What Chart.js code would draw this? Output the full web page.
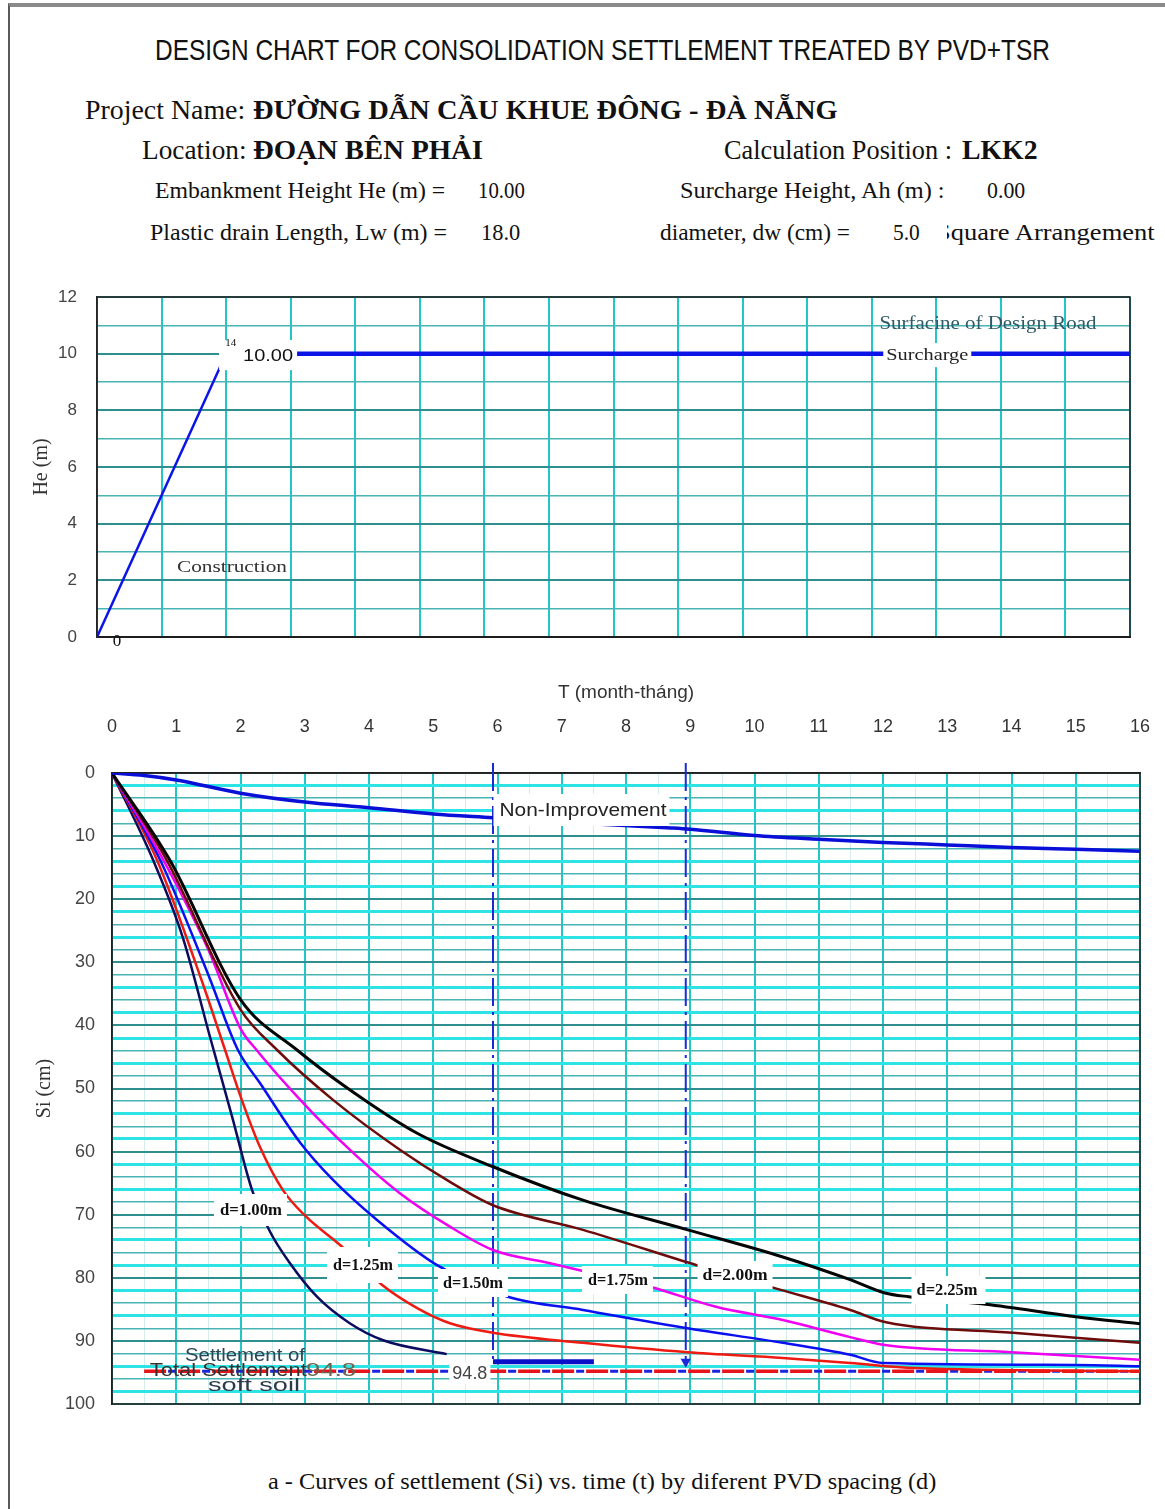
<!DOCTYPE html>
<html>
<head>
<meta charset="utf-8">
<script src="https://cdn.jsdelivr.net/npm/chart.js@4.4.1/dist/chart.umd.min.js"></script>
<style>
body{margin:0;background:#fff;width:1165px;height:1509px;position:relative;overflow:hidden;}
#frame{position:absolute;left:8px;top:3px;width:1200px;height:1540px;border-top:4px solid #8a8a8a;border-left:2px solid #5a5a5a;}
.t{position:absolute;white-space:nowrap;line-height:1;transform-origin:0 50%;color:#111;font-family:"Liberation Serif",serif;}
#top{position:absolute;left:0;top:280px;}
#bot{position:absolute;left:0;top:680px;}
#cut{position:absolute;left:924px;top:215px;width:23px;height:34px;background:#fff;}
</style>
</head>
<body>
<div id="frame"></div>
<canvas id="top" width="1165" height="380"></canvas>
<canvas id="bot" width="1165" height="760"></canvas>
<div id="texts"></div>
<div id="cut"></div>
<script>
// top chart: embankment height vs time
var heT = [0, 2, 16];
var heV = [0, 10, 10];
var heTicks = [0, 2, 4, 6, 8, 10, 12];

// bottom chart: settlement Si (cm) vs time t (month)
var timeTicks = [0,1,2,3,4,5,6,7,8,9,10,11,12,13,14,15,16];
var siTicks = [0,10,20,30,40,50,60,70,80,90,100];

var noImpT = [0, 0.5, 1, 2, 3, 4, 5, 5.93, 7, 8.7, 9, 10, 11, 12, 13, 14, 15, 16];
var noImpS = [0, 0.4, 1.1, 3.2, 4.6, 5.5, 6.5, 7.1, 7.8, 8.7, 8.9, 9.9, 10.5, 11.0, 11.4, 11.8, 12.1, 12.4];

var d100T = [0, 0.64, 1.1, 1.53, 1.87, 2.18, 2.46, 2.77, 3.19, 3.7, 4.22, 5.21];
var d100S = [0, 13.8, 26, 42, 54.5, 66.1, 72.7, 77.7, 83, 87.2, 89.9, 92.1];

var d125T = [0, 0.7, 1.4, 1.76, 2.02, 2.3, 2.66, 3.03, 3.55, 4.2, 4.75, 5.26, 5.93, 7.33, 8.96, 10.44, 11.49, 12.5, 16];
var d125S = [0, 13.8, 33, 43.9, 51.8, 59.2, 66.1, 70.4, 74.8, 81.1, 84.8, 87.2, 88.7, 90.3, 91.8, 92.7, 93.5, 94.3, 94.8];

var d150T = [0, 0.75, 1.5, 1.96, 2.3, 2.93, 3.44, 4.12, 5.06, 6.16, 7.33, 8.96, 10.44, 11.49, 12, 15, 16];
var d150S = [0, 13.8, 32, 43.9, 49.1, 58.6, 64.5, 70.8, 78, 83, 85.1, 88, 90.3, 92.2, 93.5, 93.8, 94];

var d175T = [0, 0.8, 1.5, 2, 2.25, 2.93, 3.7, 4.48, 5.26, 5.93, 6.82, 7.28, 8.4, 9.4, 10.44, 11.49, 12, 14, 16];
var d175S = [0, 13.8, 28, 40.5, 43.9, 51.8, 59.7, 66.6, 71.9, 75.6, 77.7, 78.8, 81.5, 84.6, 86.7, 89.4, 90.6, 91.8, 93];

var d200T = [0, 0.85, 2, 2.57, 3.44, 4.48, 5.26, 5.93, 7.33, 9.1, 10.3, 11.49, 12.03, 14.02, 16];
var d200S = [0, 13.8, 37.5, 43.9, 51.8, 59.7, 64.8, 68.5, 72.4, 78, 81.6, 85.1, 87, 88.7, 90.3];

var d225T = [0, 0.9, 2, 2.88, 3.7, 4.75, 5.93, 7.33, 8.96, 10.44, 11.49, 12.03, 12.4, 13.6, 15.03, 16];
var d225S = [0, 13.8, 35.9, 43.9, 50.2, 57.1, 62.4, 67.7, 72.4, 76.7, 80.3, 82.4, 83, 84.2, 86.2, 87.3];

var totalT = [0.5, 16];
var totalS = [94.8, 94.8];
var stageT = [5.93, 8.93];
var stageS = [-1.6, 93.3];
var holdT = [5.93, 7.5];
var holdS = [93.3, 93.3];

function pts(xs, ys){ return xs.map(function(x,i){ return {x:x, y:ys[i]}; }); }

// ---- header text ----
var texts = [
  ["DESIGN CHART FOR CONSOLIDATION SETTLEMENT TREATED BY PVD+TSR", 155, 50, 895, 30, false, '"Liberation Sans",sans-serif'],
  ["Project Name:", 85, 110, 160, 27],
  ["ĐƯỜNG DẪN CẦU KHUE ĐÔNG - ĐÀ NẴNG", 253, 110, 585, 27, true],
  ["Location:", 142, 150, 104, 27],
  ["ĐOẠN BÊN PHẢI", 253, 150, 230, 27, true],
  ["Calculation Position :", 724, 150, 228, 27],
  ["LKK2", 962, 150, 76, 27, true],
  ["Embankment Height He (m) =", 155, 190, 290, 23],
  ["10.00", 478, 190, 47, 23],
  ["Surcharge Height, Ah (m) :", 680, 190, 265, 23],
  ["0.00", 987, 190, 38, 23],
  ["Plastic drain Length, Lw (m) =", 150, 232, 297, 23],
  ["18.0", 481, 232, 39, 23],
  ["diameter, dw (cm) =", 660, 232, 190, 23],
  ["5.0", 893, 232, 27, 23],
  ["Square Arrangement", 936, 232, 219, 23],
  ["a - Curves of settlement (Si) vs. time (t) by diferent PVD spacing (d)", 268, 1481, 668, 23]
];
var holder = document.getElementById('texts');
texts.forEach(function(a){
  var d = document.createElement('div');
  d.className = 't';
  d.textContent = a[0];
  d.style.left = a[1] + 'px';
  d.style.top = (a[2] - a[4]/2) + 'px';
  d.style.fontSize = a[4] + 'px';
  if (a[5]) d.style.fontWeight = 'bold';
  if (a[6]) d.style.fontFamily = a[6];
  holder.appendChild(d);
  d.style.transform = 'scaleX(' + (a[3] / d.offsetWidth) + ')';
});

// ---- plugins ----
var frameBox = {
  id: 'frameBox',
  beforeDatasetsDraw: function(chart){
    var a = chart.chartArea, c = chart.ctx;
    c.save();
    c.strokeStyle = '#222';
    c.lineWidth = 1.5;
    c.strokeRect(a.left, a.top, a.right - a.left, a.bottom - a.top);
    c.restore();
  }
};
var notes = {
  id: 'notes',
  afterDatasetsDraw: function(chart, args, opts){
    var c = chart.ctx, xs = chart.scales.x, ys = chart.scales.y;
    (opts.items || []).forEach(function(n){
      c.save();
      c.font = n.font;
      var tw = c.measureText(n.text).width;
      var sx = n.w ? n.w / tw : 1;
      var w = tw * sx;
      var cx = xs.getPixelForValue(n.t), cy = ys.getPixelForValue(n.v);
      var left = cx - w / 2;
      if (n.box) {
        c.fillStyle = '#fff';
        c.fillRect(left - n.box[0], cy - n.box[2], w + n.box[0] + n.box[1], 2 * n.box[2]);
      }
      c.fillStyle = n.color || '#111';
      c.textBaseline = 'middle';
      c.translate(left, cy);
      c.scale(sx, 1);
      c.fillText(n.text, 0, 1);
      c.restore();
    });
  }
};

Chart.defaults.font.family = '"Liberation Sans", Arial, sans-serif';
Chart.defaults.color = '#333';

// gap between tick labels and plot is made with an invisible tick mark,
// so it does not add to the label overhang padding
function yGrid(major, mid, gap){
  return {
    color: function(c){
      var v = Math.round(c.tick.value * 100) / 100;
      if (v % major === 0) return '#2f8f8f';
      return (Math.round(v / mid) % 2) ? '#2ee3e3' : '#48b4b4';
    },
    lineWidth: function(c){
      var v = Math.round(c.tick.value * 100) / 100;
      if (v % major === 0) return 2;
      return (Math.round(v / mid) % 2) ? 3 : 1.5;
    },
    drawTicks: true, tickLength: gap, tickColor: 'rgba(0,0,0,0)'
  };
}
function xGrid(gap){
  return {
    color: function(c){ return c.tick.value % 1 === 0 ? '#22c6c6' : '#d4ecec'; },
    lineWidth: function(c){ return c.tick.value % 1 === 0 ? 2 : 1; },
    drawTicks: gap > 0, tickLength: gap, tickColor: 'rgba(0,0,0,0)'
  };
}

// ---- top chart ----
new Chart(document.getElementById('top'), {
  type: 'line',
  data: {
    datasets: [{
      label: 'He',
      data: pts(heT, heV),
      borderColor: '#0a14e6',
      segment: { borderWidth: function(c){ return c.p0DataIndex === 0 ? 2.5 : 4.5; } },
      pointRadius: 0,
      tension: 0
    }]
  },
  options: {
    responsive: false,
    animation: false,
    events: [],
    layout: { padding: { top: 17, right: 35, left: 0, bottom: 0 } },
    plugins: {
      legend: { display: false },
      tooltip: { enabled: false },
      notes: { items: [
        { text: '10.00', t: 2.65, v: 9.95, w: 50, font: '17px "Liberation Sans"', box: [24, 4, 15] },
        { text: '14', t: 2.07, v: 10.4, w: 11, font: '11px "Liberation Serif"' },
        { text: '0', t: 0.31, v: -0.14, font: '17px "Liberation Serif"' },
        { text: 'Construction', t: 2.09, v: 2.47, w: 110, font: '17px "Liberation Serif"', color: '#333' },
        { text: 'Surfacine of Design Road', t: 13.8, v: 11.08, w: 217, font: '18px "Liberation Serif"', color: '#2d5a66' },
        { text: 'Surcharge', t: 12.86, v: 9.95, w: 82, font: '16px "Liberation Serif"', color: '#222', box: [3, 3, 12] }
      ] }
    },
    scales: {
      x: {
        type: 'linear', min: 0, max: 16,
        ticks: { display: false, stepSize: 1, padding: 0 },
        grid: xGrid(0),
        border: { color: '#111', width: 2 },
        afterFit: function(s){ s.height = 23; }
      },
      y: {
        min: 0, max: 12,
        ticks: { stepSize: 0.5, padding: 0, font: { size: 17 }, color: '#444',
          callback: function(v){ return heTicks.indexOf(v) >= 0 ? String(v) : ''; } },
        grid: yGrid(2, 0.5, 20),
        border: { color: '#333', width: 1.5 },
        title: { display: true, text: 'He (m)', font: { family: '"Liberation Serif"', size: 20 }, color: '#333', padding: { top: 30 } },
        afterFit: function(s){ s.width = 97; }
      }
    }
  },
  plugins: [frameBox, notes]
});

// ---- bottom chart ----
function curve(label, t, s, color, width){
  return { label: label, data: pts(t, s), borderColor: color, borderWidth: width,
    pointRadius: 0, cubicInterpolationMode: 'monotone' };
}

new Chart(document.getElementById('bot'), {
  type: 'line',
  data: {
    datasets: [
      curve('Non-Improvement', noImpT, noImpS, '#0a0fd8', 3.5),
      curve('d=2.25m', d225T, d225S, '#050505', 3),
      curve('d=2.00m', d200T, d200S, '#6e0c0c', 2.5),
      curve('d=1.75m', d175T, d175S, '#f000f0', 2.5),
      curve('d=1.50m', d150T, d150S, '#0a10f0', 2.5),
      curve('d=1.25m', d125T, d125S, '#ee1b12', 2.5),
      curve('d=1.00m', d100T, d100S, '#0b0b60', 2.5),
      { label: 'Total Settlement', data: pts(totalT, totalS), borderColor: '#e8141c', borderWidth: 3.5,
        borderDash: [22, 12], pointRadius: 0 },
      { label: 'Settlement of soft soil', data: pts(totalT, totalS), borderColor: '#1b22e0', borderWidth: 3,
        borderDash: [8, 26], borderDashOffset: -24, pointRadius: 0 },
      { label: 't6', data: [{x: stageT[0], y: stageS[0]}, {x: stageT[0], y: stageS[1]}], borderColor: '#1a2ad8',
        borderWidth: 2, borderDash: [28, 6, 3, 6], pointRadius: 0, clip: false },
      { label: 't9', data: [{x: stageT[1], y: stageS[0]}, {x: stageT[1], y: stageS[1]}], borderColor: '#1a2ad8',
        borderWidth: 2, borderDash: [28, 6, 3, 6], clip: false,
        pointRadius: [0, 6], pointStyle: 'triangle', rotation: 180, pointBackgroundColor: '#1a2ad8', pointBorderWidth: 0 },
      { label: 'hold', data: pts(holdT, holdS), borderColor: '#0a10c8', borderWidth: 5, pointRadius: 0 }
    ]
  },
  options: {
    responsive: false,
    animation: false,
    events: [],
    layout: { padding: { top: 0, right: 25, left: 0, bottom: 36 } },
    plugins: {
      legend: { display: false },
      tooltip: { enabled: false },
      notes: { items: [
        { text: 'Non-Improvement', t: 7.33, v: 5.86, w: 167, font: '19px "Liberation Sans"', color: '#222', box: [6, 3, 16] },
        { text: 'd=1.00m', t: 2.163, v: 69.26, w: 62, font: 'bold 17px "Liberation Serif"', box: [6, 5, 16] },
        { text: 'd=1.25m', t: 3.907, v: 77.97, w: 60, font: 'bold 17px "Liberation Serif"', box: [6, 5, 18] },
        { text: 'd=1.50m', t: 5.619, v: 80.82, w: 60, font: 'bold 17px "Liberation Serif"', box: [5, 5, 14] },
        { text: 'd=1.75m', t: 7.876, v: 80.35, w: 60, font: 'bold 17px "Liberation Serif"', box: [6, 5, 14] },
        { text: 'd=2.00m', t: 9.697, v: 79.56, w: 65, font: 'bold 17px "Liberation Serif"', box: [5, 5, 14] },
        { text: 'd=2.25m', t: 12.996, v: 81.93, w: 61, font: 'bold 17px "Liberation Serif"', box: [5, 8, 14] },
        { text: 'Settlement of', t: 2.07, v: 92.2, w: 120, font: '18px "Liberation Sans"', color: '#2b4656' },
        { text: 'Total Settlement', t: 1.81, v: 94.6, w: 157, font: '18px "Liberation Sans"', color: '#333' },
        { text: 'soft soil', t: 2.21, v: 97.0, w: 92, font: '18px "Liberation Sans"', color: '#2b3b4b' },
        { text: '94.8', t: 3.41, v: 94.6, w: 50, font: '18px "Liberation Sans"', color: '#6a6550' },
        { text: '94.8', t: 5.57, v: 95.1, w: 35, font: '18px "Liberation Sans"', color: '#444', box: [3, 3, 11] }
      ] }
    },
    scales: {
      x: {
        type: 'linear', position: 'top', min: 0, max: 16,
        ticks: { stepSize: 0.5, padding: 0, font: { size: 18 }, color: '#333', maxRotation: 0, autoSkip: false,
          callback: function(v){ return timeTicks.indexOf(v) >= 0 ? String(v) : ''; } },
        grid: xGrid(35),
        border: { color: '#222', width: 1.5 },
        title: { display: true, text: 'T (month-tháng)', font: { size: 19 }, color: '#333', padding: { top: 1, bottom: 0 } },
        afterFit: function(s){ s.height = 93; }
      },
      y: {
        reverse: true, min: 0, max: 100,
        ticks: { stepSize: 2, padding: 0, font: { size: 18 }, color: '#444', autoSkip: false,
          callback: function(v){ return siTicks.indexOf(v) >= 0 ? String(v) : ''; } },
        grid: yGrid(10, 2, 17),
        border: { color: '#222', width: 1.5 },
        title: { display: true, text: 'Si (cm)', font: { family: '"Liberation Serif"', size: 20 }, color: '#333', padding: { top: 33 } },
        afterFit: function(s){ s.width = 112; }
      }
    }
  },
  plugins: [frameBox, notes]
});
</script>
</body>
</html>
